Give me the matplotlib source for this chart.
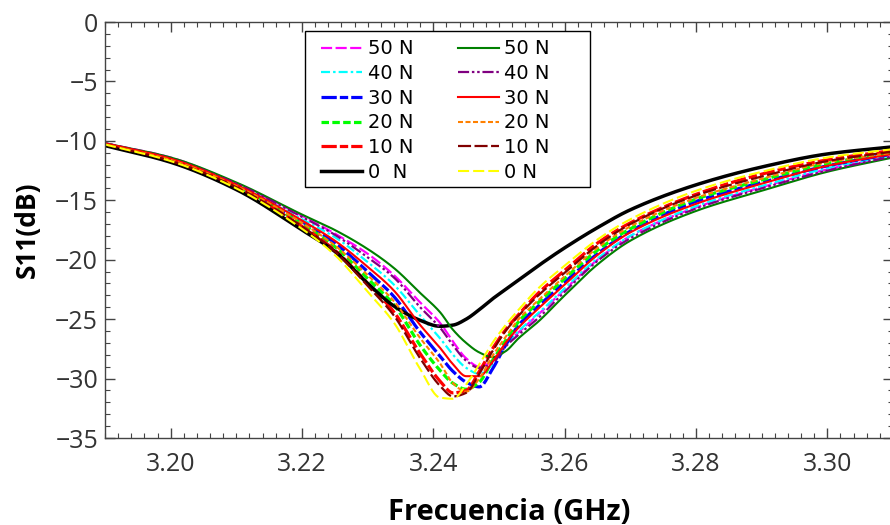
import numpy as np
import matplotlib
matplotlib.use("Agg")
import matplotlib.pyplot as plt
from matplotlib.patches import Rectangle
from matplotlib.ticker import MultipleLocator, FixedLocator

plt.rcParams['font.family'] = ['Open Sans', 'DejaVu Sans']
plt.rcParams['axes.unicode_minus'] = True
plt.rcParams['lines.scale_dashes'] = False

# Frequency samples (GHz)
freq = [3.190, 3.200, 3.210, 3.220, 3.225, 3.230, 3.234, 3.238, 3.241, 3.243,
        3.245, 3.247, 3.249, 3.251, 3.253, 3.256, 3.260, 3.265, 3.270, 3.280,
        3.290, 3.300, 3.310]

# S11 (dB), first set of measurements
s11_a_50 = [-10.2, -11.4, -13.6, -16.3, -17.8, -19.5, -21.3, -23.6, -25.3, -26.9,
            -28.3, -29.0, -28.5, -27.1, -26.1, -24.6, -22.5, -20.0, -18.0, -15.6,
            -13.9, -12.4, -11.3]
s11_a_40 = [-10.2, -11.5, -13.7, -16.6, -18.1, -20.2, -22.1, -24.7, -26.6, -28.0,
            -29.1, -29.6, -28.8, -27.2, -26.0, -24.5, -22.4, -19.9, -18.0, -15.5,
            -13.8, -12.3, -11.2]
s11_a_30 = [-10.3, -11.6, -13.8, -16.8, -18.6, -21.0, -23.1, -26.1, -28.1, -29.4,
            -30.3, -30.7, -29.2, -27.2, -25.5, -23.9, -21.9, -19.5, -17.6, -15.1,
            -13.5, -12.1, -11.1]
s11_a_20 = [-10.3, -11.6, -13.8, -17.0, -18.9, -21.6, -23.8, -27.2, -29.3, -30.4,
            -30.9, -30.3, -28.5, -26.8, -25.2, -23.6, -21.6, -19.2, -17.4, -14.9,
            -13.3, -11.9, -11.0]
s11_a_10 = [-10.3, -11.6, -13.9, -17.2, -19.2, -22.0, -24.4, -27.9, -30.2, -31.2,
            -31.0, -29.4, -27.5, -25.9, -24.6, -22.8, -20.9, -18.6, -16.9, -14.5,
            -12.8, -11.6, -10.8]
s11_a_0 = [-10.4, -11.8, -14.1, -17.5, -19.3, -22.0, -23.9, -25.1, -25.6, -25.5,
           -25.0, -24.2, -23.3, -22.5, -21.7, -20.5, -19.0, -17.3, -15.8, -13.7,
           -12.2, -11.1, -10.5]

# S11 (dB), second set of measurements
s11_b_50 = [-10.2, -11.4, -13.5, -16.2, -17.5, -19.1, -20.7, -22.8, -24.4, -25.9,
            -27.0, -27.8, -28.2, -27.7, -26.6, -25.2, -23.0, -20.4, -18.4, -15.9,
            -14.2, -12.6, -11.4]
s11_b_40 = [-10.2, -11.5, -13.6, -16.4, -17.9, -19.8, -21.5, -24.0, -25.7, -27.2,
            -28.5, -29.1, -28.7, -27.3, -26.3, -24.9, -22.7, -20.1, -18.2, -15.7,
            -14.0, -12.5, -11.3]
s11_b_30 = [-10.2, -11.5, -13.7, -16.7, -18.4, -20.6, -22.6, -25.5, -27.4, -28.8,
            -29.8, -29.8, -28.6, -27.0, -25.7, -24.1, -22.1, -19.6, -17.7, -15.3,
            -13.6, -12.1, -11.1]
s11_b_20 = [-10.3, -11.6, -13.8, -16.9, -18.8, -21.3, -23.5, -26.6, -28.7, -30.4,
            -31.1, -30.0, -28.1, -26.5, -25.0, -23.4, -21.4, -19.0, -17.2, -14.8,
            -13.2, -11.8, -11.0]
s11_b_10 = [-10.3, -11.7, -13.9, -17.2, -19.3, -22.2, -24.7, -28.3, -30.6, -31.5,
            -31.2, -29.6, -27.7, -26.0, -24.7, -23.0, -21.1, -18.8, -17.0, -14.6,
            -13.0, -11.7, -10.9]
s11_b_0 = [-10.3, -11.7, -14.0, -17.4, -19.6, -22.7, -25.3, -29.2, -31.6, -31.7,
           -30.5, -28.8, -27.0, -25.5, -24.2, -22.4, -20.5, -18.3, -16.6, -14.2,
           -12.6, -11.4, -10.7]

labels_a = ["50 N", "40 N", "30 N", "20 N", "10 N", "0  N"]
labels_b = ["50 N", "40 N", "30 N", "20 N", "10 N", "0 N"]
x_ticks = [3.20, 3.22, 3.24, 3.26, 3.28, 3.30]
y_ticks = [0, -5, -10, -15, -20, -25, -30, -35]


def smooth(x, y, n=800):
    """Monotone cubic (PCHIP) curve through the measured samples."""
    x = np.asarray(x, float)
    y = np.asarray(y, float)
    h = np.diff(x)
    d = np.diff(y) / h
    m = np.zeros_like(y)
    for k in range(1, len(x) - 1):
        if d[k - 1] * d[k] > 0:
            w1 = 2 * h[k] + h[k - 1]
            w2 = h[k] + 2 * h[k - 1]
            m[k] = (w1 + w2) / (w1 / d[k - 1] + w2 / d[k])
    m[0], m[-1] = d[0], d[-1]
    xs = np.linspace(x[0], x[-1], n)
    i = np.clip(np.searchsorted(x, xs) - 1, 0, len(h) - 1)
    t = (xs - x[i]) / h[i]
    h00 = 2 * t**3 - 3 * t**2 + 1
    h10 = t**3 - 2 * t**2 + t
    h01 = -2 * t**3 + 3 * t**2
    h11 = t**3 - t**2
    ys = h00 * y[i] + h10 * h[i] * m[i] + h01 * y[i + 1] + h11 * h[i] * m[i + 1]
    return xs, ys


series = [
    (s11_a_50, labels_a[0], dict(color='#ff00ff', lw=1.6, dashes=(8, 2.5))),
    (s11_a_40, labels_a[1], dict(color='#00ffff', lw=1.6, dashes=(6.5, 2.2, 1.8, 2.2))),
    (s11_a_30, labels_a[2], dict(color='#0000ff', lw=2.3, dashes=(11, 2.2, 6, 2.2))),
    (s11_a_20, labels_a[3], dict(color='#00ff00', lw=2.3, dashes=(5.4, 2.4))),
    (s11_a_10, labels_a[4], dict(color='#ff0000', lw=2.3, dashes=(11, 2.2, 6, 2.2))),
    (s11_a_0, labels_a[5], dict(color='#000000', lw=2.5, linestyle='-')),
    (s11_b_50, labels_b[0], dict(color='#008000', lw=1.5, linestyle='-')),
    (s11_b_40, labels_b[1], dict(color='#800080', lw=1.6, dashes=(8, 2, 1.8, 2, 1.8, 2))),
    (s11_b_30, labels_b[2], dict(color='#ff0000', lw=1.5, linestyle='-')),
    (s11_b_20, labels_b[3], dict(color='#ff8000', lw=1.5, dashes=(3.6, 1.8))),
    (s11_b_10, labels_b[4], dict(color='#800000', lw=1.6, dashes=(9.4, 2.5))),
    (s11_b_0, labels_b[5], dict(color='#ffff00', lw=1.5, dashes=(8, 2.9))),
]

fig = plt.figure(figsize=(8.9, 5.25), dpi=100)
ax = fig.add_axes([105 / 890, 87 / 525, 788 / 890, 416 / 525])

for vals, lab, style in series:
    xs, ys = smooth(freq, vals)
    ax.plot(xs, ys, label=lab, **style)

ax.set_xlim(3.19, 3.31)
ax.set_ylim(-35, 0)
ax.xaxis.set_major_locator(FixedLocator(x_ticks))
ax.yaxis.set_major_locator(FixedLocator(y_ticks))
ax.xaxis.set_minor_locator(MultipleLocator(0.002))
ax.yaxis.set_minor_locator(MultipleLocator(1))
ax.set_xticklabels([f"{v:.2f}" for v in x_ticks])
ax.set_yticklabels([f"{v:d}".replace('-', '\u2212') for v in y_ticks])

ax.tick_params(which='both', direction='in', top=True, right=True,
               colors='#444444', labelcolor='#333333', labelsize=18)
ax.tick_params(which='major', length=7, width=1.0)
ax.tick_params(axis='x', which='major', pad=10)
ax.tick_params(axis='y', which='major', pad=5)
ax.tick_params(which='minor', length=3.5, width=0.8)
for sp in ax.spines.values():
    sp.set_color('#444444')
    sp.set_linewidth(1.0)

ax.set_xlabel("Frecuencia (GHz)", fontsize=21, fontweight='bold', labelpad=15)
ax.set_ylabel("S11(dB)", fontsize=19, fontweight='bold', labelpad=10)
ax.xaxis.label.set_x(0.513)

# Legend frame and entries
ax.add_patch(Rectangle((0.2538, 0.6034), 0.3617, 0.375, transform=ax.transAxes,
                       facecolor='white', edgecolor='black', lw=1.0, zorder=4.5))
leg = ax.legend(ncol=2, loc='upper left', bbox_to_anchor=(0.2665, 0.972),
                frameon=False, borderpad=0.3, borderaxespad=0,
                prop={'family': 'DejaVu Sans', 'size': 14},
                handlelength=2.1, handletextpad=0.3, columnspacing=2.3,
                labelspacing=0.29)
leg.set_zorder(5)

fig.savefig("out.png", dpi=100)
